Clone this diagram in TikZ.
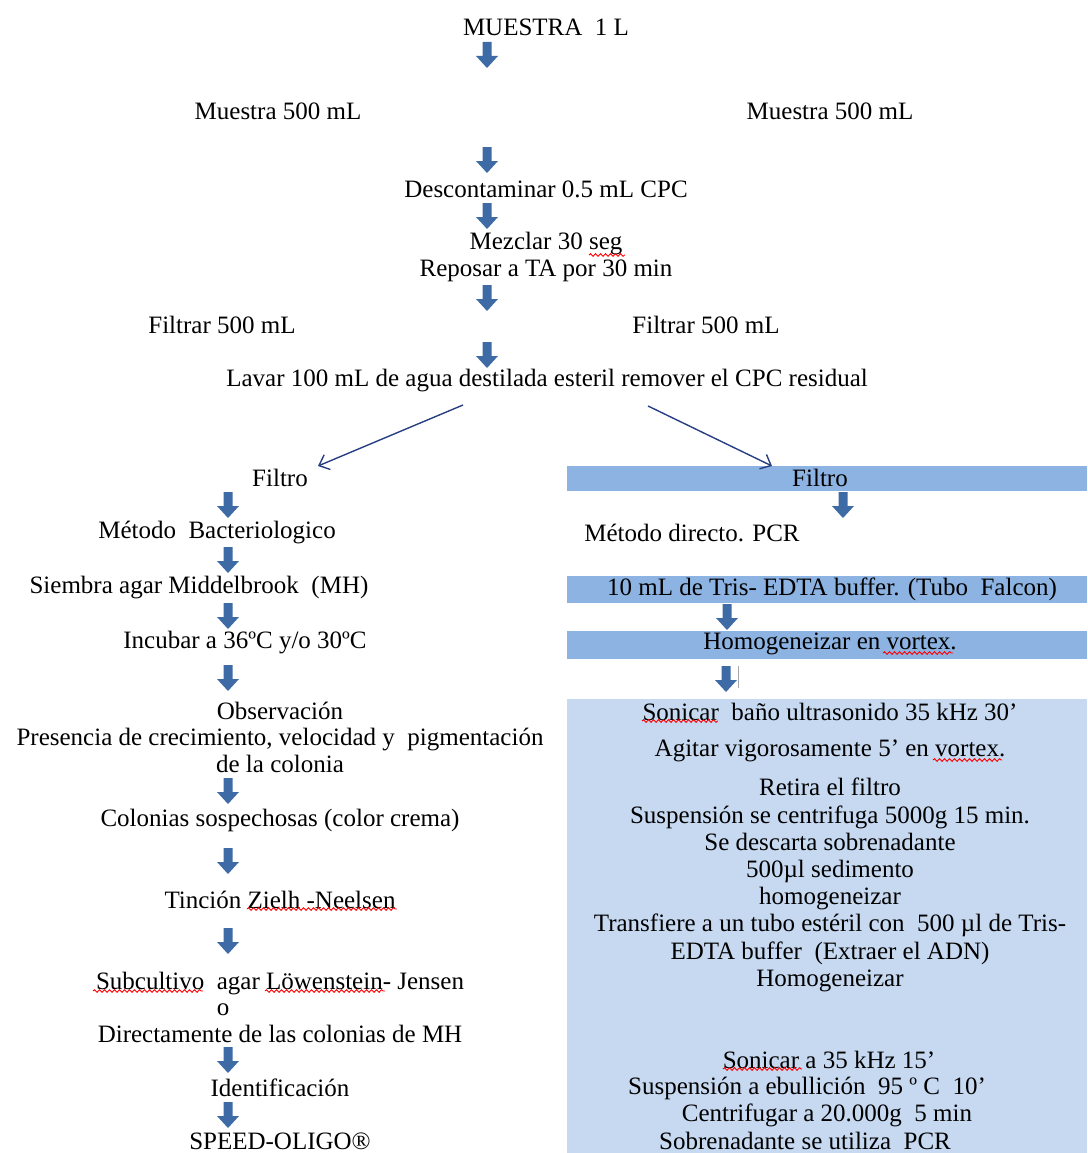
\documentclass[tikz,border=0pt]{standalone}
\usepackage{fontspec}
\setmainfont{Liberation Serif}
\usetikzlibrary{arrows.meta,decorations.pathmorphing}
\definecolor{arrowblue}{RGB}{62,106,165}
\definecolor{linkblue}{RGB}{40,62,130}
\definecolor{bandblue}{RGB}{141,179,226}
\definecolor{boxblue}{RGB}{198,217,241}
\newcommand{\txtsize}{\fontsize{25}{26.5}\selectfont}
\tikzset{
  txt/.style={font=\txtsize, inner sep=0pt, align=center},
  barrow/.pic={\fill[arrowblue] (-4.5,0) -- (4.5,0) -- (4.5,14) -- (11,14) -- (0,26) -- (-11,14) -- (-4.5,14) -- cycle;},
  thinarrow/.style={draw=linkblue, line width=1.4pt, -{Straight Barb[length=9pt,width=16pt,line width=1.4pt]}},
  squig/.style={draw=red, line width=0.9pt, decorate, decoration={snake, amplitude=1.3pt, segment length=5pt}}
}
\begin{document}
\begin{tikzpicture}[x=1pt,y=-1pt]
\useasboundingbox (0,0) rectangle (1087,1153);
% background bands
\fill[bandblue] (567,466) rectangle (1087,491);
\fill[bandblue] (567,576) rectangle (1087,603);
\fill[bandblue] (567,631) rectangle (1087,659);
\fill[boxblue] (567,699) rectangle (1087,1153);

% top column
\node[txt] (m1) at (546,27) {MUESTRA\ \ 1 L};
\pic at (487,42) {barrow};
\node[txt] (ml) at (278,111) {Muestra 500 mL};
\node[txt] (mr) at (830,111) {Muestra 500 mL};
\pic at (487,147) {barrow};
\node[txt] (desc) at (546,189) {Descontaminar 0.5 mL CPC};
\pic at (487,203) {barrow};
\node[txt] (mez) at (546,257) {Mezclar 30 seg\\Reposar a TA por 30 min};
\pic at (487,285) {barrow};
\node[txt] (fl) at (222,325) {Filtrar 500 mL};
\node[txt] (fr) at (706,325) {Filtrar 500 mL};
\pic at (487,342) {barrow};
\node[txt] (lav) at (547,381) {Lavar 100 mL de agua destilada esteril remover el CPC residual};

% branch arrows
\coordinate (lavL) at (463,405);
\coordinate (lavR) at (648,406);
\coordinate (filL) at (318,466);
\coordinate (filR) at (772,466);
\draw[thinarrow] (lavL) -- (filL);
\draw[thinarrow] (lavR) -- (filR);

% left column
\node[txt] (filtroL) at (280,478) {Filtro};
\pic at (228,492) {barrow};
\node[txt] (bact) at (217,533) {Método\ \ Bacteriologico};
\pic at (228,547) {barrow};
\node[txt] (siem) at (199,588) {Siembra agar Middelbrook\ \ (MH)};
\pic at (228,603) {barrow};
\node[txt] (inc) at (245,643) {Incubar a 36ºC y/o 30ºC};
\pic at (228,665) {barrow};
\node[txt] (obs) at (280,737) {Observación\\Presencia de crecimiento, velocidad y\ \ pigmentación\\de la colonia};
\pic at (228,778) {barrow};
\node[txt] (col) at (280,820) {Colonias sospechosas (color crema)};
\pic at (228,848) {barrow};
\node[txt] (tin) at (280,900) {Tinción Zielh -Neelsen};
\pic at (228,928) {barrow};
\node[txt] (sub) at (280,1007) {Subcultivo\ \ agar Löwenstein- Jensen\\\hspace*{-114pt}o\\Directamente de las colonias de MH};
\pic at (228,1047) {barrow};
\node[txt] (ide) at (280,1088) {Identificación};
\pic at (228,1102) {barrow};
\node[txt] (spe) at (280,1141) {SPEED-OLIGO®};

% right column
\node[txt] (filtroR) at (820,478) {Filtro};
\pic at (843,492) {barrow};
\node[txt] (dir) at (692,533) {Método directo. PCR};
\node[txt] (tris) at (832,589) {10 mL de Tris- EDTA buffer. (Tubo\ \ Falcon)};
\pic at (727,604) {barrow};
\node[txt] (hom) at (830,644) {Homogeneizar en vortex.};
\pic at (726,666) {barrow};
\draw[gray!70, line width=0.8pt] (738,666) -- (738,688);
\node[txt] (son1) at (830,712) {Sonicar\ \ baño ultrasonido 35 kHz 30'};
\node[txt] (agi) at (830,751) {Agitar vigorosamente 5' en vortex.};
\node[txt, font=\fontsize{25}{27.2}\selectfont] (ret) at (830,885) {Retira el filtro\\Suspensión se centrifuga 5000g 15 min.\\Se descarta sobrenadante\\500µl sedimento\\homogeneizar\\Transfiere a un tubo estéril con\ \ 500 µl de Tris-\\EDTA buffer\ \ (Extraer el ADN)\\Homogeneizar};
\node[txt] (son2) at (829,1060) {Sonicar a 35 kHz 15'};
\node[txt] (ebu) at (807,1088) {Suspensión a ebullición\ \ 95 º C\ \ 10'};
\node[txt] (cen) at (827,1115) {Centrifugar a 20.000g\ \ 5 min};
\node[txt] (sob) at (805,1141) {Sobrenadante se utiliza\ \ PCR};

% spell-check squiggles
\draw[squig] (589,255) -- (625,255);
\draw[squig] (883,653) -- (953,653);
\draw[squig] (642,721) -- (718,721);
\draw[squig] (933,760) -- (1002,760);
\draw[squig] (723,1069) -- (802,1069);
\draw[squig] (247,909) -- (397,909);
\draw[squig] (93,991) -- (203,991);
\draw[squig] (265,991) -- (385,991);
\end{tikzpicture}
\end{document}
